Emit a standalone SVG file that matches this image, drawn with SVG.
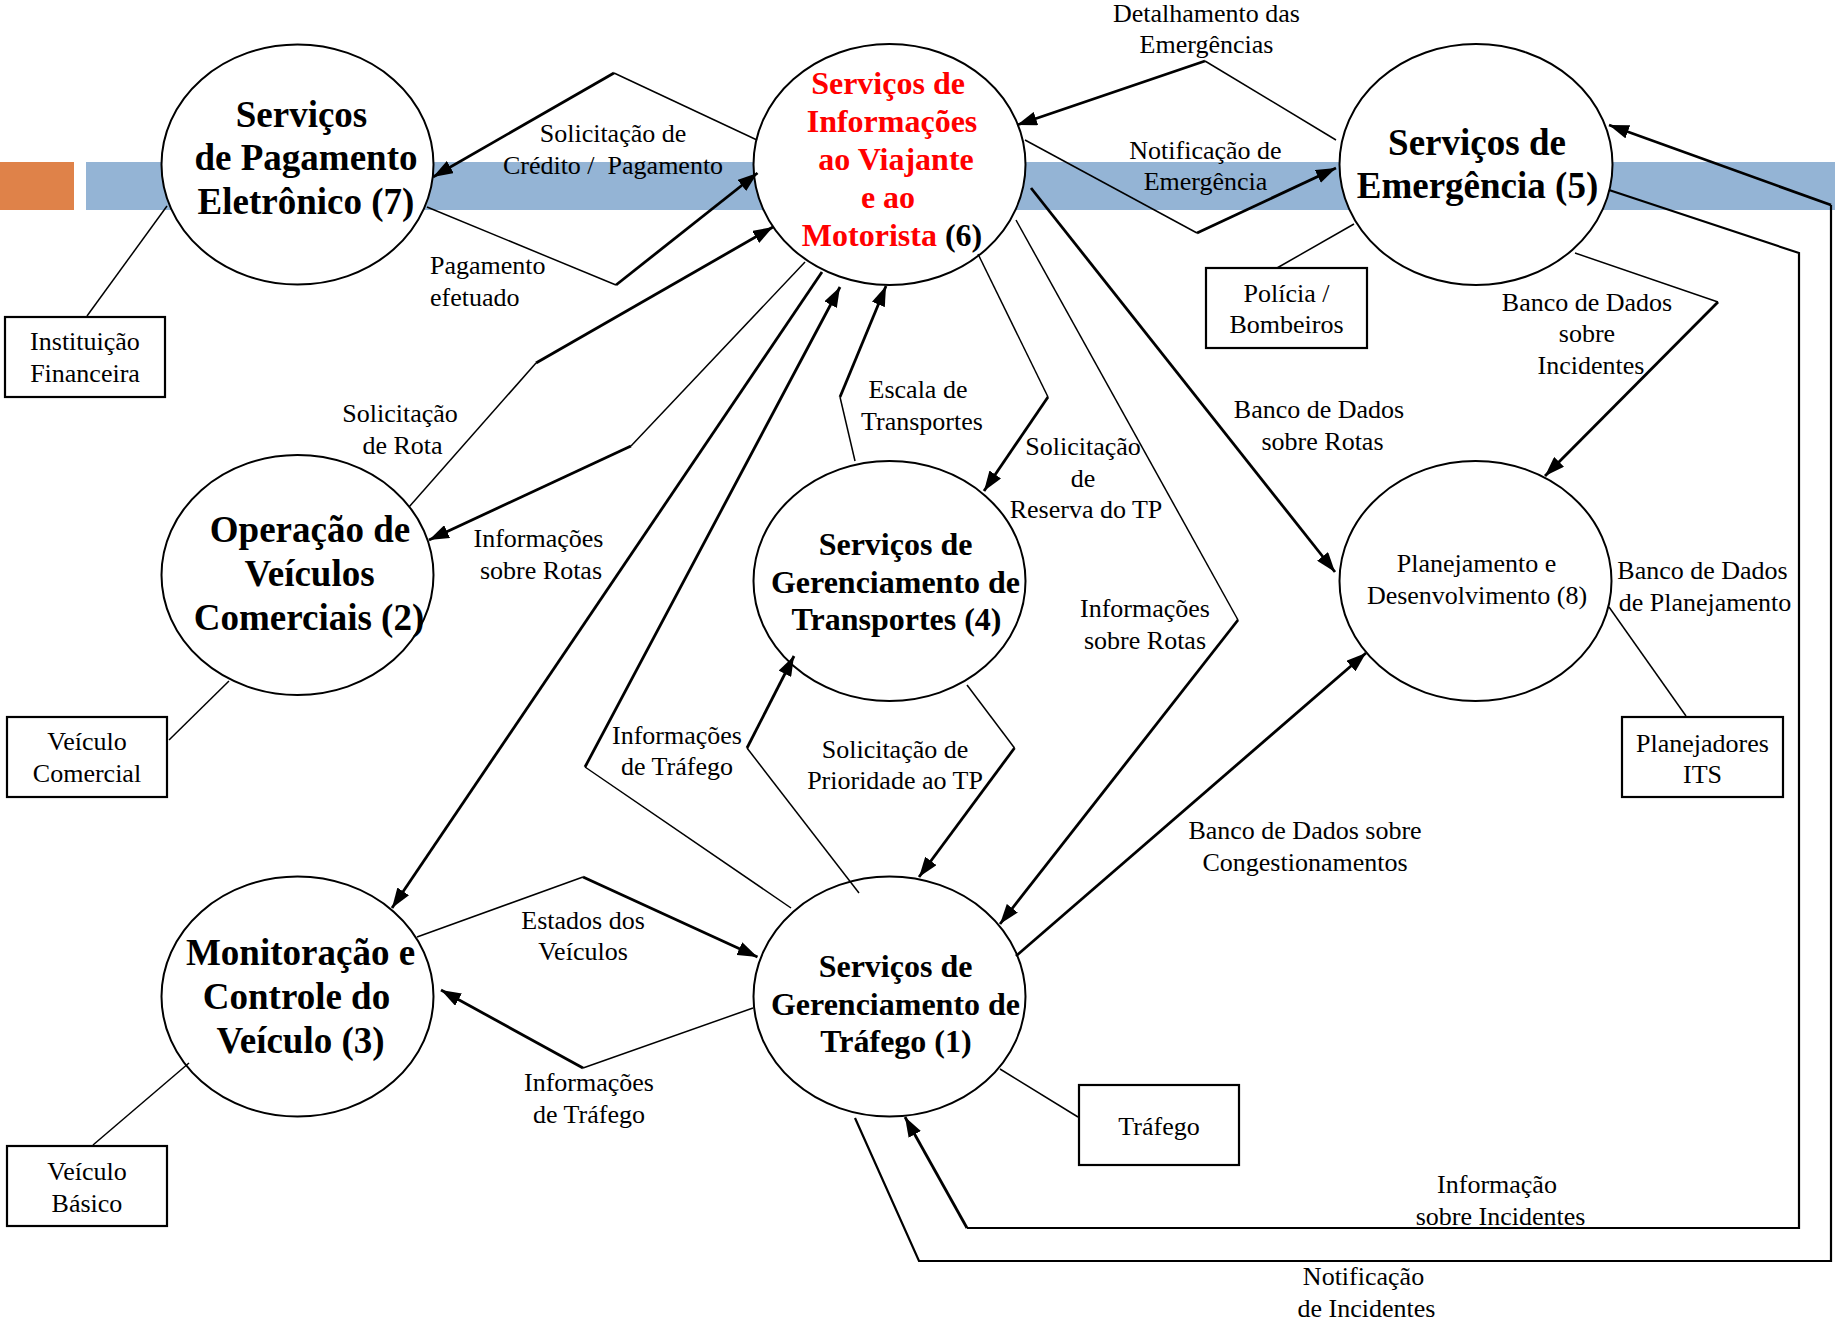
<svg xmlns="http://www.w3.org/2000/svg" width="1835" height="1325" viewBox="0 0 1835 1325">
<defs>
<marker id="arr" viewBox="0 0 20 14" refX="20" refY="7" markerWidth="20" markerHeight="14" markerUnits="userSpaceOnUse" orient="auto">
<path d="M0,0 L20,7 L0,14 z" fill="#000"/>
</marker>
<style>
text{font-family:"Liberation Serif","Times New Roman",serif;fill:#000;text-anchor:middle}
.big{font-size:37px;font-weight:bold}
.mid{font-size:32px;font-weight:bold}
.red{fill:#ff0000}
.lbl{font-size:26px}
.circ{fill:#fff;stroke:#000;stroke-width:2}
.box{fill:#fff;stroke:#000;stroke-width:2.2}
.thin{fill:none;stroke:#000;stroke-width:1.5}
.thick{fill:none;stroke:#000;stroke-width:2.8;marker-end:url(#arr)}
.route{fill:none;stroke:#000;stroke-width:2.2}
</style>
</defs>
<rect width="1835" height="1325" fill="#fff"/>
<g id="band">
<rect x="0" y="162" width="74" height="48" fill="#df8249"/>
<rect x="86" y="162" width="1749" height="48" fill="#94b4d5"/>
</g>

<g id="node7">
<ellipse class="circ" cx="297.5" cy="164.5" rx="136" ry="120"/>
<text class="big" x="301.5" y="126.5">Serviços</text>
<text class="big" x="306" y="170">de Pagamento</text>
<text class="big" x="306" y="213.5">Eletrônico (7)</text>
</g>
<g id="node6">
<ellipse class="circ" cx="889.5" cy="164.5" rx="136" ry="120.5"/>
<text class="mid red" x="888" y="94">Serviços de</text>
<text class="mid red" x="892" y="132">Informações</text>
<text class="mid red" x="896" y="170">ao Viajante</text>
<text class="mid red" x="888" y="208">e ao</text>
<text class="mid" x="892" y="246"><tspan class="red">Motorista</tspan> (6)</text>
</g>
<g id="node5">
<ellipse class="circ" cx="1476" cy="164.5" rx="136.5" ry="120.5"/>
<text class="big" x="1477" y="154.5">Serviços de</text>
<text class="big" x="1477.5" y="197.5">Emergência (5)</text>
</g>
<g id="node2">
<ellipse class="circ" cx="297.5" cy="575" rx="136" ry="120"/>
<text class="big" x="310" y="542">Operação de</text>
<text class="big" x="309.5" y="585.5">Veículos</text>
<text class="big" x="309" y="630">Comerciais (2)</text>
</g>
<g id="node4">
<ellipse class="circ" cx="889.5" cy="581" rx="136" ry="120"/>
<text class="mid" x="895.5" y="554.5">Serviços de</text>
<text class="mid" x="895.5" y="592.5">Gerenciamento de</text>
<text class="mid" x="896.5" y="630">Transportes (4)</text>
</g>
<g id="node8">
<ellipse class="circ" cx="1475.5" cy="581" rx="136" ry="120"/>
<text class="lbl" x="1476.5" y="572">Planejamento e</text>
<text class="lbl" x="1477" y="603.5">Desenvolvimento (8)</text>
</g>
<g id="node3">
<ellipse class="circ" cx="297.5" cy="996.5" rx="136" ry="120"/>
<text class="big" x="300.5" y="965">Monitoração e</text>
<text class="big" x="296.5" y="1009">Controle do</text>
<text class="big" x="300.5" y="1053">Veículo (3)</text>
</g>
<g id="node1">
<ellipse class="circ" cx="889.5" cy="996.5" rx="136" ry="120"/>
<text class="mid" x="895.5" y="976.5">Serviços de</text>
<text class="mid" x="895.5" y="1014.5">Gerenciamento de</text>
<text class="mid" x="896" y="1052">Tráfego (1)</text>
</g>

<g id="ext-financeira">
<rect class="box" x="5" y="317" width="160" height="80"/>
<text class="lbl" x="85" y="350">Instituição</text>
<text class="lbl" x="85" y="381.5">Financeira</text>
</g>
<g id="ext-comercial">
<rect class="box" x="7" y="717" width="160" height="80"/>
<text class="lbl" x="87" y="750">Veículo</text>
<text class="lbl" x="87" y="781.5">Comercial</text>
</g>
<g id="ext-basico">
<rect class="box" x="7" y="1146" width="160" height="80"/>
<text class="lbl" x="87" y="1180">Veículo</text>
<text class="lbl" x="87" y="1211.5">Básico</text>
</g>
<g id="ext-policia">
<rect class="box" x="1206" y="268" width="161" height="80"/>
<text class="lbl" x="1286.5" y="301.5">Polícia /</text>
<text class="lbl" x="1286.5" y="333">Bombeiros</text>
</g>
<g id="ext-planejadores">
<rect class="box" x="1622" y="717" width="161" height="80"/>
<text class="lbl" x="1702.5" y="751.5">Planejadores</text>
<text class="lbl" x="1702.5" y="782.5">ITS</text>
</g>
<g id="ext-trafego">
<rect class="box" x="1079" y="1085" width="160" height="80"/>
<text class="lbl" x="1159" y="1135">Tráfego</text>
</g>

<g id="connectors">
<!-- terminator links -->
<line class="thin" x1="87" y1="316" x2="167" y2="206"/>
<line class="thin" x1="169" y1="740" x2="229" y2="681"/>
<line class="thin" x1="93" y1="1145" x2="189" y2="1063"/>
<line class="thin" x1="1277" y1="268" x2="1354" y2="224"/>
<line class="thin" x1="1686" y1="716" x2="1609" y2="607"/>
<line class="thin" x1="1078" y1="1117" x2="1000" y2="1069"/>
<!-- A -->
<polyline class="thin" points="757,140 614,73"/>
<line class="thick" x1="614" y1="73" x2="433" y2="177"/>
<!-- B -->
<polyline class="thin" points="427,207 616,285"/>
<line class="thick" x1="616" y1="285" x2="757.5" y2="173"/>
<!-- C -->
<polyline class="thin" points="409,507 536,363"/>
<line class="thick" x1="536" y1="363" x2="773" y2="227"/>
<!-- D -->
<polyline class="thin" points="805,262 631,446"/>
<line class="thick" x1="631" y1="446" x2="429" y2="540"/>
<!-- E -->
<line class="thick" x1="822" y1="272" x2="392" y2="908"/>
<!-- F -->
<polyline class="thin" points="791,908 585,767"/>
<line class="thick" x1="585" y1="767" x2="840" y2="287"/>
<!-- G -->
<polyline class="thin" points="859,893 747,748"/>
<line class="thick" x1="747" y1="748" x2="794" y2="656"/>
<!-- Escala -->
<polyline class="thin" points="855,461 840,397"/>
<line class="thick" x1="840" y1="397" x2="886" y2="286"/>
<!-- H -->
<polyline class="thin" points="967,685 1014.5,748"/>
<line class="thick" x1="1014.5" y1="748" x2="919" y2="877"/>
<!-- I -->
<polyline class="thin" points="978,254 1048,397"/>
<line class="thick" x1="1048" y1="397" x2="984" y2="491"/>
<!-- J -->
<polyline class="thin" points="1016,220 1238,620"/>
<line class="thick" x1="1238" y1="620" x2="1000" y2="924"/>
<!-- K -->
<line class="thick" x1="1031" y1="188" x2="1335" y2="572"/>
<!-- L -->
<polyline class="thin" points="1336,140 1205,61"/>
<line class="thick" x1="1205" y1="61" x2="1017" y2="125"/>
<!-- M -->
<polyline class="thin" points="1025,140 1197,233"/>
<line class="thick" x1="1197" y1="233" x2="1336" y2="168"/>
<!-- N -->
<polyline class="thin" points="1575,253 1718,302"/>
<line class="thick" x1="1718" y1="302" x2="1545" y2="476"/>
<!-- O -->
<line class="thick" x1="1016" y1="956" x2="1366" y2="653"/>
<!-- P -->
<polyline class="route" points="1609,190 1799,253 1799,1228 967,1228"/>
<line class="thick" x1="967" y1="1228" x2="905" y2="1117"/>
<!-- Q -->
<polyline class="route" points="855,1118 919,1261 1831,1261 1831,205"/>
<line class="thick" x1="1831" y1="205" x2="1609" y2="125"/>
<!-- R -->
<polyline class="thin" points="417,937 583,877"/>
<line class="thick" x1="583" y1="877" x2="757.5" y2="957"/>
<!-- S -->
<polyline class="thin" points="753,1008 583,1068"/>
<line class="thick" x1="583" y1="1068" x2="441" y2="990"/>
</g>

<g id="labels" class="lbl">
<text class="lbl" x="613" y="142">Solicitação de</text>
<text class="lbl" x="613" y="173.5" xml:space="preserve">Crédito /  Pagamento</text>
<text class="lbl" x="430" y="274" style="text-anchor:start">Pagamento</text>
<text class="lbl" x="430" y="305.5" style="text-anchor:start">efetuado</text>
<text class="lbl" x="400" y="422">Solicitação</text>
<text class="lbl" x="402.5" y="453.5">de Rota</text>
<text class="lbl" x="538.5" y="547">Informações</text>
<text class="lbl" x="541" y="578.5">sobre Rotas</text>
<text class="lbl" x="918" y="398">Escala de</text>
<text class="lbl" x="922" y="429.5">Transportes</text>
<text class="lbl" x="1083" y="455">Solicitação</text>
<text class="lbl" x="1083" y="486.5">de</text>
<text class="lbl" x="1086" y="518">Reserva do TP</text>
<text class="lbl" x="1145" y="617">Informações</text>
<text class="lbl" x="1145" y="648.5">sobre Rotas</text>
<text class="lbl" x="1319" y="418">Banco de Dados</text>
<text class="lbl" x="1322.5" y="449.5">sobre Rotas</text>
<text class="lbl" x="1206.5" y="21.5">Detalhamento das</text>
<text class="lbl" x="1206.5" y="53">Emergências</text>
<text class="lbl" x="1205.5" y="158.5">Notificação de</text>
<text class="lbl" x="1205.5" y="190">Emergência</text>
<text class="lbl" x="1587" y="310.5">Banco de Dados</text>
<text class="lbl" x="1587" y="342">sobre</text>
<text class="lbl" x="1591" y="373.5">Incidentes</text>
<text class="lbl" x="1702.5" y="579">Banco de Dados</text>
<text class="lbl" x="1705" y="610.5">de Planejamento</text>
<text class="lbl" x="677" y="743.5">Informações</text>
<text class="lbl" x="677" y="775">de Tráfego</text>
<text class="lbl" x="895" y="758">Solicitação de</text>
<text class="lbl" x="895" y="789">Prioridade ao TP</text>
<text class="lbl" x="1305" y="839">Banco de Dados sobre</text>
<text class="lbl" x="1305" y="870.5">Congestionamentos</text>
<text class="lbl" x="583" y="928.5">Estados dos</text>
<text class="lbl" x="583" y="960">Veículos</text>
<text class="lbl" x="589" y="1091">Informações</text>
<text class="lbl" x="589" y="1122.5">de Tráfego</text>
<text class="lbl" x="1497" y="1193">Informação</text>
<text class="lbl" x="1500.5" y="1224.5">sobre Incidentes</text>
<text class="lbl" x="1363.5" y="1285">Notificação</text>
<text class="lbl" x="1366.5" y="1316.5">de Incidentes</text>
</g>
</svg>
